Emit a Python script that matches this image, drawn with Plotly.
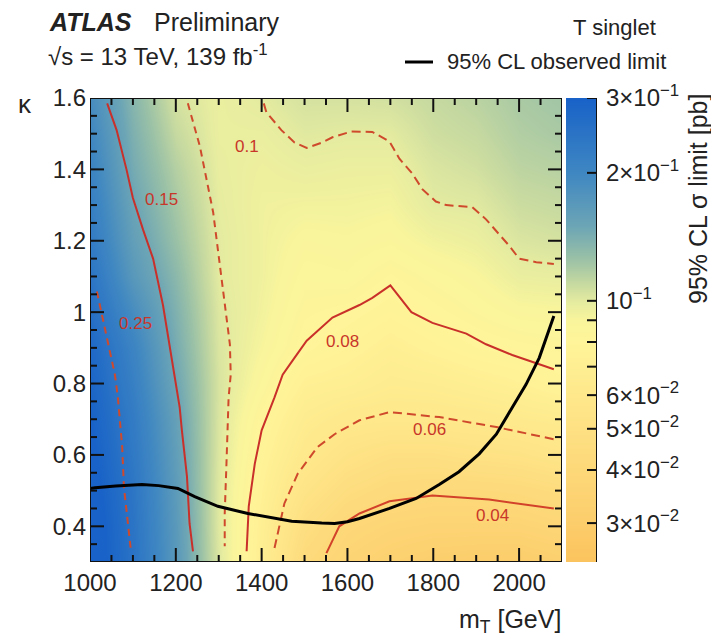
import numpy as np
import plotly.graph_objects as go

# ---------------- data ----------------
mass = [1000, 1100, 1200, 1300, 1400, 1500, 1600, 1700, 1800, 1900, 2000, 2100]
kappa = [0.3, 0.4, 0.5, 0.6, 0.7, 0.8, 0.9, 1.0, 1.1, 1.2, 1.3, 1.4, 1.5, 1.6]
# 95% CL cross-section limit [pb], one row per kappa value
limit_pb = [
    [0.33, 0.25, 0.17, 0.102, 0.069, 0.042, 0.036, 0.033, 0.031, 0.030, 0.030, 0.032],
    [0.33, 0.246, 0.168, 0.101, 0.0707, 0.047, 0.0395, 0.037, 0.036, 0.036, 0.036, 0.038],
    [0.32, 0.242, 0.165, 0.101, 0.0735, 0.054, 0.0457, 0.042, 0.041, 0.041, 0.042, 0.0445],
    [0.31, 0.234, 0.161, 0.102, 0.0767, 0.061, 0.053, 0.049, 0.049, 0.051, 0.0525, 0.056],
    [0.30, 0.227, 0.157, 0.103, 0.0805, 0.066, 0.061, 0.060, 0.060, 0.061, 0.063, 0.065],
    [0.29, 0.217, 0.150, 0.104, 0.0867, 0.072, 0.070, 0.066, 0.067, 0.070, 0.073, 0.078],
    [0.28, 0.207, 0.144, 0.103, 0.0907, 0.080, 0.076, 0.071, 0.075, 0.079, 0.081, 0.083],
    [0.26, 0.19, 0.139, 0.102, 0.093, 0.083, 0.081, 0.077, 0.081, 0.085, 0.089, 0.090],
    [0.245, 0.17, 0.133, 0.100, 0.094, 0.086, 0.087, 0.082, 0.086, 0.090, 0.097, 0.098],
    [0.23, 0.16, 0.126, 0.100, 0.094, 0.089, 0.090, 0.088, 0.093, 0.096, 0.103, 0.105],
    [0.22, 0.152, 0.121, 0.099, 0.094, 0.093, 0.093, 0.092, 0.100, 0.101, 0.108, 0.110],
    [0.21, 0.145, 0.116, 0.098, 0.095, 0.097, 0.096, 0.096, 0.103, 0.106, 0.113, 0.115],
    [0.20, 0.14, 0.11, 0.097, 0.097, 0.101, 0.100, 0.100, 0.107, 0.110, 0.117, 0.120],
    [0.19, 0.135, 0.105, 0.097, 0.100, 0.105, 0.105, 0.106, 0.110, 0.114, 0.120, 0.123],
]

# contour lines (m_T, kappa)
c025_x = [1016, 1030, 1047, 1058, 1065, 1075, 1079, 1086, 1095]
c025_y = [1.058, 0.983, 0.892, 0.825, 0.761, 0.622, 0.511, 0.428, 0.336]
c015_x = [1040, 1062, 1085, 1100, 1124, 1147, 1170, 1194, 1209, 1214, 1226, 1232, 1240]
c015_y = [1.585, 1.51, 1.40, 1.32, 1.23, 1.15, 1.02, 0.836, 0.733, 0.67, 0.539, 0.408, 0.33]
c010a_x = [1228, 1256, 1287, 1306, 1326, 1328, 1323, 1318, 1314, 1314]
c010a_y = [1.585, 1.465, 1.28, 1.094, 0.91, 0.825, 0.761, 0.575, 0.436, 0.344]
c010b_x = [1405, 1411, 1446, 1477, 1505, 1540, 1565, 1609, 1658, 1698, 1721, 1750, 1775,
           1806, 1830, 1860, 1891, 1923, 1977, 2000, 2040, 2081]
c010b_y = [1.585, 1.56, 1.51, 1.475, 1.46, 1.475, 1.49, 1.506, 1.505, 1.478, 1.43, 1.39, 1.344,
           1.31, 1.30, 1.297, 1.294, 1.26, 1.186, 1.15, 1.14, 1.135]
c008_x = [1365, 1370, 1384, 1400, 1430, 1449, 1472, 1505, 1565, 1600, 1628, 1658, 1700,
          1749, 1798, 1877, 1923, 1984, 2081]
c008_y = [0.33, 0.456, 0.575, 0.669, 0.761, 0.825, 0.864, 0.92, 0.985, 1.005, 1.02, 1.04, 1.075,
          1.0, 0.97, 0.94, 0.91, 0.88, 0.84]
c006_x = [1430, 1453, 1484, 1530, 1570, 1628, 1698, 1814, 1947, 2081]
c006_y = [0.339, 0.464, 0.547, 0.622, 0.658, 0.697, 0.72, 0.706, 0.678, 0.644]
c004_x = [1551, 1581, 1628, 1698, 1760, 1798, 1930, 2081]
c004_y = [0.325, 0.40, 0.436, 0.47, 0.48, 0.486, 0.475, 0.45]

# observed limit
obs_x = [1000, 1012, 1060, 1121, 1160, 1205, 1244, 1298, 1368, 1470, 1540, 1570, 1600, 1628,
         1698, 1760, 1814, 1860, 1907, 1947, 1984, 2016, 2047, 2081]
obs_y = [0.506, 0.508, 0.513, 0.517, 0.514, 0.506, 0.483, 0.456, 0.436, 0.414, 0.409, 0.408,
         0.413, 0.422, 0.45, 0.478, 0.517, 0.553, 0.603, 0.658, 0.733, 0.797, 0.872, 0.989]

contour_labels = ["0.25", "0.15", "0.1", "0.08", "0.06", "0.04"]
label_x = [1105, 1167, 1367, 1588, 1791, 1937]
label_y = [0.969, 1.317, 1.464, 0.919, 0.672, 0.43]

cb_vals = [0.03, 0.04, 0.05, 0.06, 0.07, 0.08, 0.09, 0.1, 0.2, 0.3]
cb_text = ["3×10<sup>−2</sup>", "4×10<sup>−2</sup>", "5×10<sup>−2</sup>", "6×10<sup>−2</sup>",
           "", "", "", "10<sup>−1</sup>", "2×10<sup>−1</sup>", "3×10<sup>−1</sup>"]

x_range = [1000, 2100]
y_range = [0.3, 1.6]
x_major, x_minor = 200, 50
y_major, y_minor = 0.2, 0.05

# ---------------- geometry (pixels) ----------------
W, H = 711, 639
L, R_PLOT, R_CB_L, R_CB_R, T, B = 90, 562, 566, 597, 98, 562
PW = R_CB_R - L           # paper width in px
PH = B - T                # paper height in px

def px(x):
    return (x - L) / PW

def py(y):
    return (B - y) / PH

XD = px(R_PLOT)           # right end of main x domain (paper)

zmin, zmax = float(np.log10(0.0243)), float(np.log10(0.3))

def pos(v):
    return float((np.log10(v) - zmin) / (zmax - zmin))

colorscale = [
    [0.0, "#fbc35d"],
    [pos(0.03), "#fccd6b"],
    [pos(0.04), "#fdd879"],
    [pos(0.06), "#fee88b"],
    [pos(0.08), "#fff499"],
    [pos(0.09), "#f9f59c"],
    [pos(0.1), "#e4eba0"],
    [pos(0.11), "#c6d9a0"],
    [pos(0.125), "#9cc2a6"],
    [pos(0.15), "#6ca5b5"],
    [pos(0.2), "#3f87c2"],
    [1.0, "#1862c8"],
]

FONT = "Liberation Sans, Arial, Helvetica, sans-serif"
RED = "#c9302a"
RED_D = "#cf4a2c"
AX = "#111111"

fig = go.Figure()
# main 2D map
fig.add_trace(go.Heatmap(
    x=mass, y=kappa, z=np.log10(np.array(limit_pb)),
    zmin=zmin, zmax=zmax, zsmooth="best", colorscale=colorscale,
    hoverinfo="skip", showscale=False,
))
# palette (colour bar) drawn as its own strip on x3/y3
fig.add_trace(go.Heatmap(
    x=[0, 1], y=[zmin, zmax], z=[[zmin, zmin], [zmax, zmax]],
    zmin=zmin, zmax=zmax, zsmooth="best", colorscale=colorscale,
    hoverinfo="skip", showscale=False, xaxis="x3", yaxis="y3",
))

def add_line(xs, ys, color, dash, width=2, xaxis="x", yaxis="y", clip=True):
    fig.add_trace(go.Scatter(x=xs, y=ys, mode="lines", hoverinfo="skip", showlegend=False,
                             xaxis=xaxis, yaxis=yaxis, cliponaxis=clip, connectgaps=False,
                             line=dict(color=color, width=width, dash=dash)))

add_line(c025_x, c025_y, RED_D, "7px,5px")
add_line(c015_x, c015_y, RED, "solid")
add_line(c010a_x, c010a_y, RED_D, "7px,5px")
add_line(c010b_x, c010b_y, RED_D, "9px,5px")
add_line(c008_x, c008_y, RED, "solid")
add_line(c006_x, c006_y, RED_D, "9px,5px")
add_line(c004_x, c004_y, "#d2422a", "solid")
add_line(obs_x, obs_y, "black", "solid", width=3)

for t, lx, ly in zip(contour_labels, label_x, label_y):
    fig.add_annotation(x=lx, y=ly, text=t, showarrow=False,
                       font=dict(family=FONT, size=17, color="#c8362a"))

# ROOT-style frame with inside ticks on all four sides, built from the axis ranges
plot_w, plot_h = R_PLOT - L, B - T
x0, x1 = x_range
y0, y1 = y_range
dx_per_px = (x1 - x0) / plot_w
dy_per_px = (y1 - y0) / plot_h
fx, fy = [x0, x1, x1, x0, x0, None], [y0, y0, y1, y1, y0, None]
for xv in np.arange(x0, x1 + 1e-6, x_minor):
    ln = (14 if abs((xv - x0) % x_major) < 1e-6 else 7) * dy_per_px
    fx += [float(xv), float(xv), None, float(xv), float(xv), None]
    fy += [y0, y0 + ln, None, y1 - ln, y1, None]
for yv in np.arange(y0, y1 + 1e-6, y_minor):
    ratio = (yv - 0.4) / y_major
    ln = (14 if abs(ratio - round(ratio)) < 1e-6 else 7) * dx_per_px
    fx += [x0, x0 + ln, None, x1 - ln, x1, None]
    fy += [float(yv), float(yv), None, float(yv), float(yv), None]
add_line(fx, fy, AX, "solid", width=2, clip=False)

# palette axis line and ticks (right edge, pointing inwards)
cb_w = R_CB_R - R_CB_L
cx, cy = [1, 1, None], [zmin, zmax, None]
for v in cb_vals:
    lv = float(np.log10(v))
    cx += [1 - 10 / cb_w, 1, None]
    cy += [lv, lv, None]
add_line(cx, cy, AX, "solid", width=2, xaxis="x3", yaxis="y3", clip=False)

tickfont = dict(family=FONT, size=24, color="#222")
fig.update_layout(
    xaxis=dict(domain=[0, XD], range=x_range, tick0=x_range[0], dtick=x_major,
               showgrid=False, zeroline=False, ticks="", showline=False,
               ticklabelstandoff=4, tickfont=tickfont),
    yaxis=dict(domain=[0, 1], range=y_range, tick0=0.4, dtick=y_major,
               showgrid=False, zeroline=False, ticks="", showline=False,
               ticklabelstandoff=3, tickfont=tickfont),
    xaxis3=dict(domain=[px(R_CB_L), 1], range=[0, 1], visible=False, anchor="y3"),
    yaxis3=dict(domain=[0, 1], range=[zmin, zmax], anchor="x3", side="right",
                tickmode="array", tickvals=list(np.log10(cb_vals)), ticktext=cb_text,
                ticks="", showgrid=False, zeroline=False, showline=False,
                ticklabelstandoff=8, tickfont=tickfont),
)

texts = [
    ("<b><i>ATLAS</i></b>", 47, 22, "left", 25),
    ("Preliminary", 152, 22, "left", 25),
    ("√s = 13 TeV, 139 fb<sup>-1</sup>", 46, 55, "left", 24),
    ("T singlet", 658, 27, "right", 22),
    ("95% CL observed limit", 668, 61, "right", 22),
    ("κ", 25, 104, "center", 26),
    ("m<sub>T</sub> [GeV]", 563, 621, "right", 25),
]
for t, x, y, xa, s in texts:
    fig.add_annotation(x=px(x), y=py(y), xref="paper", yref="paper", text=t, showarrow=False,
                       xanchor=xa, yanchor="middle",
                       font=dict(family=FONT, size=s, color="#222"))

fig.add_annotation(x=px(698), y=py(92), xref="paper", yref="paper",
                   text="95% CL σ limit [pb]", textangle=-90, showarrow=False,
                   xanchor="center", yanchor="top",
                   font=dict(family=FONT, size=25, color="#222"))

# legend line sample
fig.add_shape(type="line", xref="paper", yref="paper", x0=px(405), x1=px(433),
              y0=py(62), y1=py(62), line=dict(color="black", width=3))

fig.update_layout(
    width=W, height=H,
    margin=dict(l=L, r=W - R_CB_R, t=T, b=H - B),
    paper_bgcolor="white", plot_bgcolor="white",
    showlegend=False,
)

fig.write_html("out.html")
